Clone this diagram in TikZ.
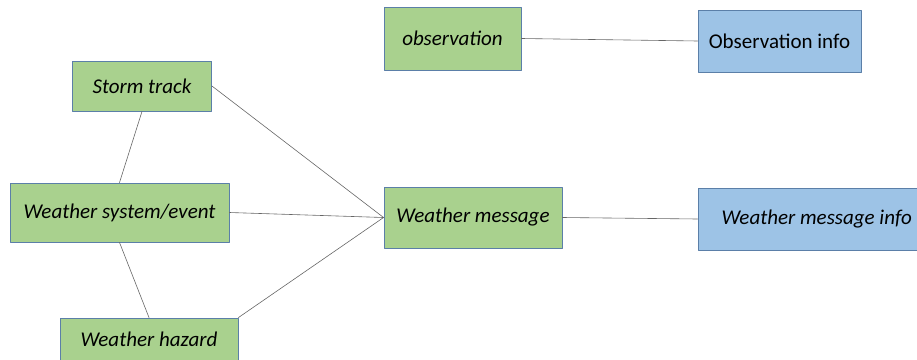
\documentclass[tikz,border=0pt]{standalone}
\usepackage{fontspec}
\setmainfont{Carlito}
\definecolor{boxgreen}{HTML}{A9D18E}
\definecolor{boxblue}{HTML}{9DC3E6}
\definecolor{boxline}{HTML}{5B7FA8}
\begin{document}
\begin{tikzpicture}[x=1pt,y=-1pt,line cap=round, line join=round,
		concept/.style={draw=boxline,fill=boxgreen,line width=0.9pt,inner sep=0pt,font=\fontsize{21}{24}\selectfont\itshape},
		info/.style={draw=boxline,fill=boxblue,line width=0.9pt,inner sep=0pt,font=\fontsize{21}{24}\selectfont},
		link/.style={draw=gray!80!black,line width=0.6pt}]
			\clip (0,0) rectangle (917,359);
			\node[concept,minimum width=139pt,minimum height=50pt] (storm) at (142,86) {Storm track};
			\node[concept,minimum width=219pt,minimum height=59pt] (system) at (119.5,212.5) {Weather system/event};
			\node[concept,minimum width=178pt,minimum height=42pt] (hazard) at (149,339) {Weather hazard};
			\node[concept,minimum width=137pt,minimum height=63pt] (obs) at (452.5,38.5) {observation};
			\node[concept,minimum width=178pt,minimum height=61pt] (msg) at (473,217.5) {Weather message};
			\node[info,minimum width=163pt,minimum height=62pt] (obsinfo) at (779.5,41) {Observation info};
			\node[info,minimum width=224pt,minimum height=62pt,text width=204pt,align=flush right] (msginfo) at (810,219) {\itshape Weather message info};
			\draw[link] (storm.south) -- (system.north);
			\draw[link] (system.south) -- (hazard.north);
			\draw[link] (storm.east) -- (msg.west);
			\draw[link] (system.east) -- (msg.west);
			\draw[link] (hazard.north east) -- (msg.west);
			\draw[link] (obs.east) -- (obsinfo.west);
			\draw[link] (msg.east) -- (msginfo.west);
		\end{tikzpicture}
\end{document}
